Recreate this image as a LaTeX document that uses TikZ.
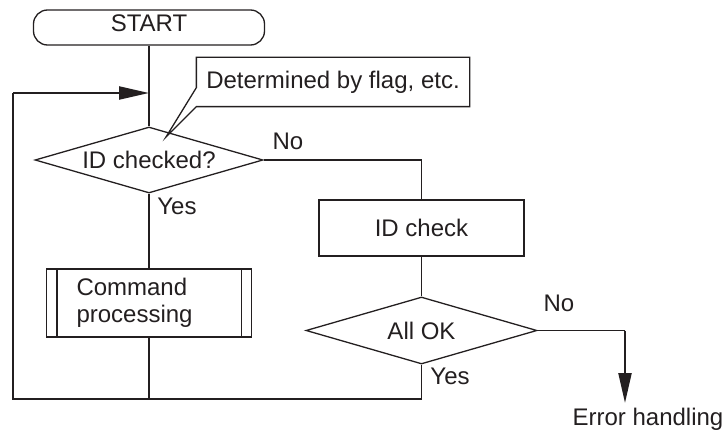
\documentclass[tikz,border=0pt]{standalone}
\usepackage{fontspec}
\setmainfont{Liberation Sans}
\usetikzlibrary{arrows.meta,shapes.geometric}
\definecolor{flowink}{RGB}{35,31,32}

\begin{document}
\begin{tikzpicture}[
    x=1pt,
    y=-1pt,
    >={Triangle[length=30pt,width=13pt]},
    line width=1.3pt,
    color=flowink,
    every node/.style={font=\fontsize{24}{27}\selectfont},
    term/.style={draw,rounded corners=14pt,minimum width=231pt,minimum height=35pt,inner sep=0pt},
    proc/.style={draw,minimum width=205pt,inner sep=0pt},
    decision/.style={draw,diamond,aspect=3.4,inner sep=0pt},
    flow/.style={->,line width=2.2pt}
]
  \useasboundingbox (0,0) rectangle (724,433);

  % blocks
  \node[term,text depth=8pt] (start) at (149,27.5) {START};
  \node[inner sep=0pt,minimum width=272pt,minimum height=48pt] (note) at (333,82) {Determined by flag, etc.};
  \coordinate (notetip) at (166,137);
  \node[decision,minimum width=228pt,minimum height=66pt] (check) at (149,160) {ID checked?};
  \node[proc,minimum height=56pt] (idcheck) at (421.5,228) {ID check};
  \node[decision,minimum width=231pt,minimum height=67pt] (allok) at (421.5,330.5) {All OK};
  \node[proc,minimum height=68pt,text width=145pt,align=left,inner xsep=30pt] (cmd) at (149,303) {Command\\processing};
  \foreach \side/\dx in {west/11,east/-11}
    \draw ([xshift=\dx pt]cmd.north \side) -- ([xshift=\dx pt]cmd.south \side);

  % branch labels
  \node (nocheck) at (288,141) {No};
  \node (yescheck) at (177,206.5) {Yes};
  \node (nook) at (559,303) {No};
  \node (yesok) at (450,376.5) {Yes};
  \node (err) at (648,419) {Error handling};

  % callout outline
  \draw (note.south west) -- (notetip) -- ([yshift=19pt]note.south west)
    -- (note.north west) -- (note.north east) -- (note.south east) -- cycle;

  \coordinate (join) at (149,93);
  \coordinate (backtop) at (13,93);
  \coordinate (back) at (13,399);
  \coordinate (merge) at (149,399);
  \coordinate (errturn) at (625,330.5);
  \coordinate (errin) at (625,403);

  % flow lines
  \draw (start.south) -- (check.north);
  \draw (check.south) -- (cmd.north);
  \draw (cmd.south) -- (merge);
  \draw (check.east) -| (idcheck.north);
  \draw (idcheck.south) -- (allok.north);
  \draw (allok.south) |- (back) -- (backtop);
  \draw[flow] (backtop) -- (join);
  \draw (allok.east) -- (errturn);
  \draw[flow] (errturn) -- (errin);
\end{tikzpicture}
\end{document}
